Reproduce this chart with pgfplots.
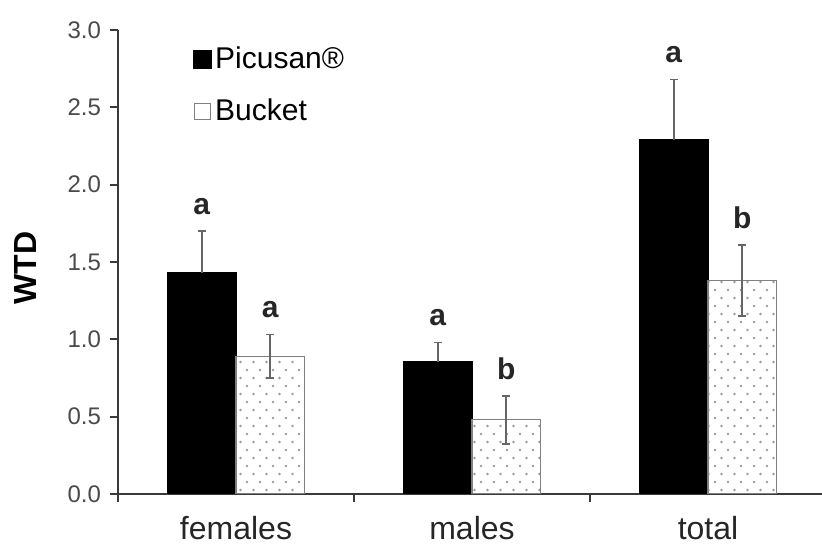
\documentclass[border=0pt]{standalone}
\usepackage{fontspec}
\setmainfont{Liberation Sans}
\usepackage{pgfplots}
\usepackage{pgfplotstable}
\pgfplotsset{compat=1.18}
\usetikzlibrary{patterns.meta}
\definecolor{tickgray}{HTML}{4A4A4A}
\definecolor{errgray}{HTML}{666666}
\definecolor{axgray}{HTML}{3A3A3A}
\tikzdeclarepattern{
  name=sparsedots,
  type=uncolored,
  bottom left={(-1pt,-1pt)},
  top right={(7.5pt,9pt)},
  tile size={(6.5pt,8pt)},
  code={\fill (0pt,0pt) circle (0.65pt); \fill (3.25pt,4pt) circle (0.65pt);}
}
\pgfplotstableread{
x y e l
0 1.43 0.27 a
1 0.855 0.125 a
2 2.29 0.39 a
}\picusan
\pgfplotstableread{
x y e l
0 0.89 0.14 a
1 0.48 0.155 b
2 1.38 0.23 b
}\bucket
\begin{document}
\begin{tikzpicture}
\begin{axis}[
  scale only axis,
  width=352pt, height=232pt,
  xmin=-0.5, xmax=2.483,
  ymin=0, ymax=3,
  enlargelimits=false,
  axis x line=bottom, axis y line=left,
  axis line style={-, axgray, line width=0.9pt},
  tick style={axgray, line width=0.9pt},
  tick align=outside,
  major tick length=4pt,
  ytick={0,0.5,...,3.0},
  /pgf/number format/fixed, /pgf/number format/fixed zerofill, /pgf/number format/precision=1,
  /pgf/number format/assume math mode=true,
  yticklabel style={font=\fontsize{12}{14}\selectfont, text=tickgray, xshift=-1pt},
  xtick={-0.5,0.5,1.5},
  xticklabels={},
  extra x ticks={0,1,2},
  extra x tick labels={females,males,total},
  extra x tick style={major tick length=0pt, tick label style={font=\fontsize{16}{19}\selectfont, text=black!85, yshift=-7.5pt}},
  ylabel={\textbf{WTD}},
  ylabel style={at={(axis description cs:-0.1307,0.487)}, anchor=center, font=\fontsize{16}{19}\selectfont},
  legend style={at={(axis description cs:0.098,0.979)}, anchor=north west, draw=none, fill=none,
    font=\fontsize{15}{18}\selectfont, row sep=10.5pt, cells={anchor=west},
    nodes={inner sep=1.5pt}},
]
\addplot[ybar, bar width=0.29, bar shift=0, fill=black, draw=black, line width=0.4pt,
  legend image code/.code={\draw[fill=black, draw=black] (0pt,-4.5pt) rectangle (9pt,4.5pt);},
  error bars/.cd, y dir=plus, y explicit,
  error bar style={errgray, line width=0.8pt},
  error mark options={errgray, line width=0.8pt, mark size=2pt, rotate=90}]
  table[x expr=\thisrow{x}-0.145, y=y, y error=e] {\picusan};
\addlegendentry{Picusan®}
\addplot[ybar, bar width=0.29, bar shift=0, draw=gray, line width=0.6pt,
  pattern=sparsedots, pattern color=gray!80,
  legend image code/.code={\draw[draw=gray, line width=0.6pt, fill=white] (0.5pt,-4pt) rectangle (8.5pt,4pt);},
  error bars/.cd, y dir=both, y explicit,
  error bar style={errgray, line width=0.8pt},
  error mark options={errgray, line width=0.8pt, mark size=2pt, rotate=90}]
  table[x expr=\thisrow{x}+0.145, y=y, y error=e] {\bucket};
\addlegendentry{Bucket}
\addplot[draw=none, mark=none, forget plot, nodes near coords, point meta=explicit symbolic,
  every node near coord/.style={anchor=south, inner sep=0pt, yshift=8pt, font=\fontsize{15}{18}\selectfont\bfseries, text=black!85}]
  table[x expr=\thisrow{x}-0.145, y expr=\thisrow{y}+\thisrow{e}, meta=l] {\picusan};
\addplot[draw=none, mark=none, forget plot, nodes near coords, point meta=explicit symbolic,
  every node near coord/.style={anchor=south, inner sep=0pt, yshift=8pt, font=\fontsize{15}{18}\selectfont\bfseries, text=black!85}]
  table[x expr=\thisrow{x}+0.145, y expr=\thisrow{y}+\thisrow{e}, meta=l] {\bucket};
\end{axis}
\pgfresetboundingbox
\path[use as bounding box] ([xshift=-59pt,yshift=-26pt]current axis.south west) rectangle ([yshift=15pt]current axis.north east);
\end{tikzpicture}
\end{document}
